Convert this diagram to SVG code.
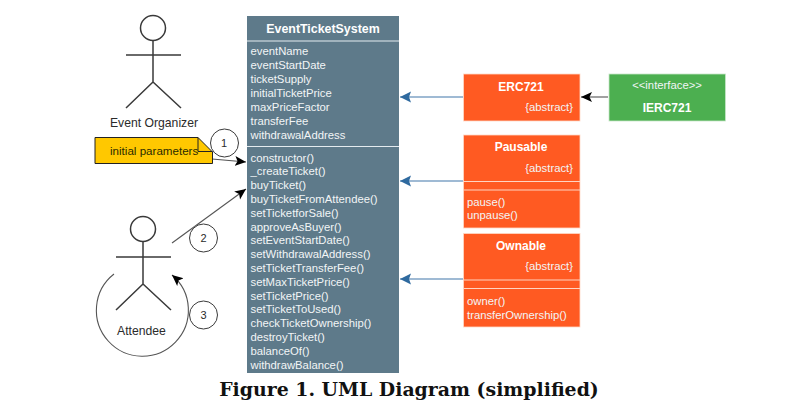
<svg xmlns="http://www.w3.org/2000/svg" width="811" height="416" viewBox="0 0 811 416">
<style>
text{font-family:"Liberation Sans",Arial,sans-serif;font-size:11.3px;fill:#f2f5f6}
.b{font-weight:700;font-size:12px;fill:#fff}
.m{text-anchor:middle}
.e{text-anchor:end}
.k{fill:#2b2b2b;font-size:12.2px}
.fig{fill:#5e7a8a;stroke:none}
.or{fill:#ff5a22;stroke:#ffd9c8;stroke-width:.8}
.sep{stroke:#ffd4c2;stroke-width:1.2;fill:none}
.actor{fill:none;stroke:#3a3a3a;stroke-width:1.5}
.num{fill:#fff;stroke:#3a3a3a;stroke-width:1}
.blue{stroke:#7fa3c6;stroke-width:1.4;fill:none;marker-end:url(#ab)}
.dark{stroke:#555;stroke-width:1.1;fill:none;marker-end:url(#ak)}
</style>
<defs>
<marker id="ab" markerUnits="userSpaceOnUse" markerWidth="12" markerHeight="12" refX="11" refY="6" orient="auto"><path d="M0 0.500L11 6L0 11.500L2 6Z" fill="#2f6a9f"/></marker>
<marker id="ak" markerUnits="userSpaceOnUse" markerWidth="12" markerHeight="12" refX="11" refY="6" orient="auto"><path d="M0 1L11 6L0 11L2.500 6Z" fill="#000"/></marker>
</defs>
<rect width="811" height="416" fill="#fff"/>
<g id="connectors">
<path class="blue" d="M463 97H400"/>
<path class="blue" d="M463 181H400"/>
<path class="blue" d="M463 279H400"/>
<path class="dark" d="M608 97H581"/>
<path class="dark" d="M212 159L246 162"/>
<path class="dark" d="M172 243L246 189"/>
<path class="dark" d="M114 274A46 46 0 1 0 172 275"/>
</g>
<g id="organizer">
<circle class="actor" cx="153" cy="28" r="12.500"/>
<path class="actor" d="M153 41V82M126 55H181M126 108L153 82L181 108"/>
<text class="k m" x="154" y="127">Event Organizer</text>
</g>
<g id="note">
<path d="M95 137.500H198L212.500 152V163.500H95Z" fill="#ffc800" stroke="#222" stroke-width="1"/>
<path d="M198 137.500V151.500H212.500" fill="none" stroke="#222" stroke-width="1"/>
<text x="110" y="155" style="fill:#2b2b00;font-size:11.600px">initial parameters</text>
</g>
<g id="n1"><circle class="num" cx="224.500" cy="143" r="14"/><text class="k m" x="224" y="147" style="font-size:11px">1</text></g>
<g id="attendee">
<circle class="actor" cx="143" cy="229" r="12.500"/>
<path class="actor" d="M143 242V284M116 257H171M116 310L143 284L171 310"/>
<text class="k m" x="141.500" y="335">Attendee</text>
</g>
<g id="n2"><circle class="num" cx="203.500" cy="238" r="14"/><text class="k m" x="203.500" y="242" style="font-size:11px">2</text></g>
<g id="n3"><circle class="num" cx="203.500" cy="315" r="14"/><text class="k m" x="203.500" y="319" style="font-size:11px">3</text></g>
<g id="EventTicketSystem">
<rect class="fig" x="247" y="16" width="152" height="357"/>
<path d="M247 41H399M247 146.500H399" stroke="#e4ebef" stroke-width="1.200"/>
<text class="b m" x="323" y="33" style="font-size:12.400px">EventTicketSystem</text>
<text x="250.500" y="55">eventName</text>
<text x="250.500" y="69">eventStartDate</text>
<text x="250.500" y="83">ticketSupply</text>
<text x="250.500" y="97">initialTicketPrice</text>
<text x="250.500" y="111">maxPriceFactor</text>
<text x="250.500" y="125">transferFee</text>
<text x="250.500" y="139">withdrawalAddress</text>
<text x="250.500" y="161.500">constructor()</text>
<text x="250.500" y="175.300">_createTicket()</text>
<text x="250.500" y="189.100">buyTicket()</text>
<text x="250.500" y="203">buyTicketFromAttendee()</text>
<text x="250.500" y="216.800">setTicketforSale()</text>
<text x="250.500" y="230.600">approveAsBuyer()</text>
<text x="250.500" y="244.400">setEventStartDate()</text>
<text x="250.500" y="258.200">setWithdrawalAddress()</text>
<text x="250.500" y="272">setTicketTransferFee()</text>
<text x="250.500" y="285.800">setMaxTicketPrice()</text>
<text x="250.500" y="299.600">setTicketPrice()</text>
<text x="250.500" y="313.400">setTicketToUsed()</text>
<text x="250.500" y="327.200">checkTicketOwnership()</text>
<text x="250.500" y="341">destroyTicket()</text>
<text x="250.500" y="354.800">balanceOf()</text>
<text x="250.500" y="368.600">withdrawBalance()</text>
</g>
<g id="ERC721">
<rect class="or" x="463.500" y="74" width="116.500" height="47"/>
<text class="b m" x="521" y="90.500">ERC721</text>
<text class="e" x="573" y="111">{abstract}</text>
</g>
<g id="IERC721">
<rect x="609" y="74" width="116.500" height="47" fill="#4caf50" stroke="#c8e6c9" stroke-width=".8"/>
<text class="m" x="667" y="89">&lt;&lt;interface&gt;&gt;</text>
<text class="b m" x="667" y="112">IERC721</text>
</g>
<g id="Pausable">
<rect class="or" x="463.500" y="135" width="116.500" height="93"/>
<path class="sep" d="M463.500 181.500H580M463.500 190H580"/>
<text class="b m" x="521" y="151">Pausable</text>
<text class="e" x="573" y="172">{abstract}</text>
<text x="467" y="206">pause()</text>
<text x="467" y="219">unpause()</text>
</g>
<g id="Ownable">
<rect class="or" x="463.500" y="233.500" width="116.500" height="93.500"/>
<path class="sep" d="M463.500 280H580M463.500 288.500H580"/>
<text class="b m" x="521" y="250">Ownable</text>
<text class="e" x="573" y="270">{abstract}</text>
<text x="467" y="305">owner()</text>
<text x="467" y="319">transferOwnership()</text>
</g>
<text x="409" y="396" text-anchor="middle" style="font-family:'DejaVu Serif',serif;font-size:18.900px;font-weight:700;fill:#111">Figure 1. UML Diagram (simplified)</text>
</svg>
